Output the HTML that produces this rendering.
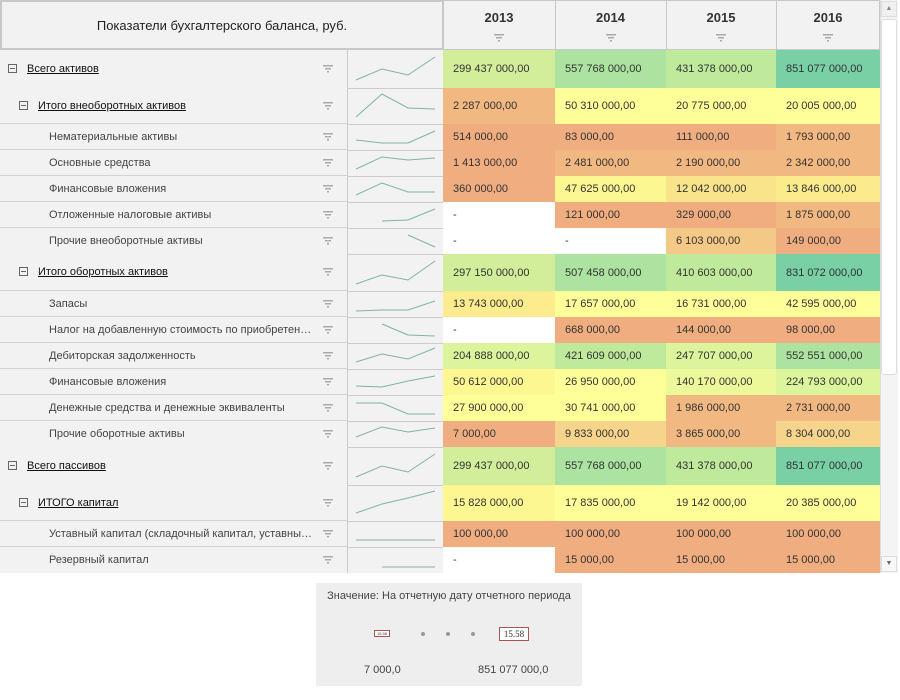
<!DOCTYPE html>
<html><head><meta charset="utf-8">
<style>
*{margin:0;padding:0;box-sizing:border-box}
body{width:900px;height:700px;background:#fff;position:relative;overflow:hidden;font-family:"Liberation Sans","DejaVu Sans",sans-serif;font-size:11px;color:#333}
.a{position:absolute}
.hd{background:#f2f2f2;border:1px solid #c8c8c8}
.lb{position:absolute;left:0;width:347px;background:#f2f2f2;border-bottom:1px solid #d2d2d2}
.lb span{position:absolute;top:50%;transform:translateY(-50%);white-space:nowrap}
.l0{left:27px;text-decoration:underline;color:#111}
.l1{left:38px;text-decoration:underline;color:#111}
.l2{left:49px;color:#444}
.bx{position:absolute;width:9px;height:9px;border:1px solid #666;top:50%;margin-top:-5px}
.bx:after{content:"";position:absolute;left:1px;top:3px;width:5px;height:1px;background:#666}
.fl{position:absolute;left:323px;top:50%;margin-top:-4px;width:10px;height:8px}
.sp{position:absolute;left:347px;width:96px;background:#f2f2f2;border-left:1px solid #ccc;border-bottom:1px solid #ccc}
.c{position:absolute;padding-left:10px;white-space:nowrap;display:flex;align-items:center}
.x0{left:443px;width:112px}.x1{left:555px;width:111px}.x2{left:666px;width:110px}.x3{left:776px;width:104px}
.G1{background:#d2ee9b}.G2{background:#ade3a0}.G3{background:#bfe99b}.G4{background:#79d0a5}
.O{background:#f0ae80}.O2{background:#f2b882}.Y{background:#ffff99}.Y2{background:#fdf792}.Y3{background:#f9e48b}.Y4{background:#f4c886}.W{background:#fff}
.L1{background:#dcf49b}.L2{background:#edf89b}.Y5{background:#f7d48c}
</style></head><body>
<svg width="0" height="0" style="position:absolute"><defs><g id="f"><rect x="0" y="0" width="10" height="1.5" fill="#aaa"/><rect x="2" y="3" width="6" height="1.5" fill="#aaa"/><rect x="4" y="6" width="2" height="1.5" fill="#aaa"/></g></defs></svg>

<!-- header -->
<div class="a hd" style="left:0;top:0;width:444px;height:50px;border-width:2px"><div style="position:absolute;width:100%;top:16px;text-align:center;font-size:13px;color:#222">Показатели бухгалтерского баланса, руб.</div></div>
<div class="a hd" style="left:443px;top:0;width:113px;height:50px"></div>
<div class="a hd" style="left:555px;top:0;width:112px;height:50px"></div>
<div class="a hd" style="left:666px;top:0;width:111px;height:50px"></div>
<div class="a hd" style="left:776px;top:0;width:104px;height:50px"></div>
<div class="a" style="left:443px;top:10px;width:112px;text-align:center;font-weight:bold;font-size:13px">2013</div>
<div class="a" style="left:555px;top:10px;width:111px;text-align:center;font-weight:bold;font-size:13px">2014</div>
<div class="a" style="left:666px;top:10px;width:110px;text-align:center;font-weight:bold;font-size:13px">2015</div>
<div class="a" style="left:776px;top:10px;width:104px;text-align:center;font-weight:bold;font-size:13px">2016</div>
<svg class="a" style="left:494px;top:34px" width="10" height="8"><use href="#f"/></svg>
<svg class="a" style="left:606px;top:34px" width="10" height="8"><use href="#f"/></svg>
<svg class="a" style="left:716px;top:34px" width="10" height="8"><use href="#f"/></svg>
<svg class="a" style="left:823px;top:34px" width="10" height="8"><use href="#f"/></svg>

<!-- label column -->
<div class="lb" style="top:50px;height:38px;border-bottom:none"><i class="bx" style="left:8px"></i><span class="l0">Всего активов</span><svg class="fl"><use href="#f"/></svg></div>
<div class="lb" style="top:88px;height:36px"><i class="bx" style="left:19px"></i><span class="l1">Итого внеоборотных активов</span><svg class="fl"><use href="#f"/></svg></div>
<div class="lb" style="top:124px;height:26px"><span class="l2">Нематериальные активы</span><svg class="fl"><use href="#f"/></svg></div>
<div class="lb" style="top:150px;height:26px"><span class="l2">Основные средства</span><svg class="fl"><use href="#f"/></svg></div>
<div class="lb" style="top:176px;height:26px"><span class="l2">Финансовые вложения</span><svg class="fl"><use href="#f"/></svg></div>
<div class="lb" style="top:202px;height:26px"><span class="l2">Отложенные налоговые активы</span><svg class="fl"><use href="#f"/></svg></div>
<div class="lb" style="top:228px;height:26px;border-bottom:none"><span class="l2">Прочие внеоборотные активы</span><svg class="fl"><use href="#f"/></svg></div>
<div class="lb" style="top:254px;height:37px"><i class="bx" style="left:19px"></i><span class="l1">Итого оборотных активов</span><svg class="fl"><use href="#f"/></svg></div>
<div class="lb" style="top:291px;height:26px"><span class="l2">Запасы</span><svg class="fl"><use href="#f"/></svg></div>
<div class="lb" style="top:317px;height:26px"><span class="l2">Налог на добавленную стоимость по приобретен…</span><svg class="fl"><use href="#f"/></svg></div>
<div class="lb" style="top:343px;height:26px"><span class="l2">Дебиторская задолженность</span><svg class="fl"><use href="#f"/></svg></div>
<div class="lb" style="top:369px;height:26px"><span class="l2">Финансовые вложения</span><svg class="fl"><use href="#f"/></svg></div>
<div class="lb" style="top:395px;height:26px"><span class="l2">Денежные средства и денежные эквиваленты</span><svg class="fl"><use href="#f"/></svg></div>
<div class="lb" style="top:421px;height:26px;border-bottom:none"><span class="l2">Прочие оборотные активы</span><svg class="fl"><use href="#f"/></svg></div>
<div class="lb" style="top:447px;height:38px;border-bottom:none"><i class="bx" style="left:8px"></i><span class="l0">Всего пассивов</span><svg class="fl"><use href="#f"/></svg></div>
<div class="lb" style="top:485px;height:36px"><i class="bx" style="left:19px"></i><span class="l1">ИТОГО капитал</span><svg class="fl"><use href="#f"/></svg></div>
<div class="lb" style="top:521px;height:26px"><span class="l2">Уставный капитал (складочный капитал, уставны…</span><svg class="fl"><use href="#f"/></svg></div>
<div class="lb" style="top:547px;height:26px;border-bottom:none"><span class="l2">Резервный капитал</span><svg class="fl"><use href="#f"/></svg></div>

<!-- sparklines -->
<div class="a" style="left:347px;top:50px;width:96px;height:523px;background:#f2f2f2;border-left:1px solid #ccc"></div>
<svg class="a" style="left:347px;top:50px" width="96" height="523">
<g stroke="#ccc" stroke-width="1">
<line x1="0" x2="96" y1="38.5" y2="38.5"/><line x1="0" x2="96" y1="74.5" y2="74.5"/><line x1="0" x2="96" y1="100.5" y2="100.5"/><line x1="0" x2="96" y1="126.5" y2="126.5"/><line x1="0" x2="96" y1="152.5" y2="152.5"/><line x1="0" x2="96" y1="178.5" y2="178.5"/><line x1="0" x2="96" y1="204.5" y2="204.5"/><line x1="0" x2="96" y1="241.5" y2="241.5"/><line x1="0" x2="96" y1="267.5" y2="267.5"/><line x1="0" x2="96" y1="293.5" y2="293.5"/><line x1="0" x2="96" y1="319.5" y2="319.5"/><line x1="0" x2="96" y1="345.5" y2="345.5"/><line x1="0" x2="96" y1="371.5" y2="371.5"/><line x1="0" x2="96" y1="397.5" y2="397.5"/><line x1="0" x2="96" y1="435.5" y2="435.5"/><line x1="0" x2="96" y1="471.5" y2="471.5"/><line x1="0" x2="96" y1="497.5" y2="497.5"/>
</g>
<g fill="none" stroke="#7fb3a6" stroke-width="1">
<polyline points="9,30 35,19 61,25 88,7"/>
<polyline points="9,67 35,44 61,58 88,59"/>
<polyline points="9,90 35,93 61,93 88,81"/>
<polyline points="9,119 35,107 61,110 88,108"/>
<polyline points="9,145 35,133 61,142 88,142"/>
<polyline points="35,171 61,170 88,159"/>
<polyline points="61,185 88,197"/>
<polyline points="9,234 35,225 61,230 88,211"/>
<polyline points="9,261 35,260 61,260 88,251"/>
<polyline points="35,274 61,285 88,286"/>
<polyline points="9,312 35,304 61,309 88,298"/>
<polyline points="9,336 35,337 61,331 88,326"/>
<polyline points="9,353 35,353 61,364 88,364"/>
<polyline points="9,387 35,377 61,382 88,378"/>
<polyline points="9,427 35,416 61,422 88,404"/>
<polyline points="9,463 35,454 61,448 88,441"/>
<polyline points="9,490 35,490 61,490 88,490"/>
<polyline points="35,517 61,517 88,517"/>
</g></svg>

<!-- data -->
<div class="c x0 G1" style="top:50px;height:38px">299 437 000,00</div><div class="c x1 G2" style="top:50px;height:38px">557 768 000,00</div><div class="c x2 G3" style="top:50px;height:38px">431 378 000,00</div><div class="c x3 G4" style="top:50px;height:38px">851 077 000,00</div>
<div class="c x0 O2" style="top:88px;height:36px">2 287 000,00</div><div class="c x1 Y" style="top:88px;height:36px">50 310 000,00</div><div class="c x2 Y" style="top:88px;height:36px">20 775 000,00</div><div class="c x3 Y" style="top:88px;height:36px">20 005 000,00</div>
<div class="c x0 O" style="top:124px;height:26px">514 000,00</div><div class="c x1 O" style="top:124px;height:26px">83 000,00</div><div class="c x2 O" style="top:124px;height:26px">111 000,00</div><div class="c x3 O2" style="top:124px;height:26px">1 793 000,00</div>
<div class="c x0 O" style="top:150px;height:26px">1 413 000,00</div><div class="c x1 O2" style="top:150px;height:26px">2 481 000,00</div><div class="c x2 O2" style="top:150px;height:26px">2 190 000,00</div><div class="c x3 O2" style="top:150px;height:26px">2 342 000,00</div>
<div class="c x0 O" style="top:176px;height:26px">360 000,00</div><div class="c x1 Y2" style="top:176px;height:26px">47 625 000,00</div><div class="c x2 Y3" style="top:176px;height:26px">12 042 000,00</div><div class="c x3 Y3" style="top:176px;height:26px;background:#fbeb8d">13 846 000,00</div>
<div class="c x0 W" style="top:202px;height:26px">-</div><div class="c x1 O" style="top:202px;height:26px">121 000,00</div><div class="c x2 O" style="top:202px;height:26px">329 000,00</div><div class="c x3 O2" style="top:202px;height:26px">1 875 000,00</div>
<div class="c x0 W" style="top:228px;height:26px">-</div><div class="c x1 W" style="top:228px;height:26px">-</div><div class="c x2 Y4" style="top:228px;height:26px">6 103 000,00</div><div class="c x3 O" style="top:228px;height:26px">149 000,00</div>
<div class="c x0 G1" style="top:254px;height:37px">297 150 000,00</div><div class="c x1 G2" style="top:254px;height:37px">507 458 000,00</div><div class="c x2 G3" style="top:254px;height:37px">410 603 000,00</div><div class="c x3 G4" style="top:254px;height:37px">831 072 000,00</div>
<div class="c x0 Y3" style="top:291px;height:26px;background:#fcec8e">13 743 000,00</div><div class="c x1 Y" style="top:291px;height:26px">17 657 000,00</div><div class="c x2 Y" style="top:291px;height:26px">16 731 000,00</div><div class="c x3 Y" style="top:291px;height:26px">42 595 000,00</div>
<div class="c x0 W" style="top:317px;height:26px">-</div><div class="c x1 O" style="top:317px;height:26px">668 000,00</div><div class="c x2 O" style="top:317px;height:26px">144 000,00</div><div class="c x3 O" style="top:317px;height:26px">98 000,00</div>
<div class="c x0 L1" style="top:343px;height:26px">204 888 000,00</div><div class="c x1 G3" style="top:343px;height:26px">421 609 000,00</div><div class="c x2 L1" style="top:343px;height:26px">247 707 000,00</div><div class="c x3 G2" style="top:343px;height:26px">552 551 000,00</div>
<div class="c x0 Y2" style="top:369px;height:26px">50 612 000,00</div><div class="c x1 Y" style="top:369px;height:26px">26 950 000,00</div><div class="c x2 L2" style="top:369px;height:26px">140 170 000,00</div><div class="c x3 L1" style="top:369px;height:26px">224 793 000,00</div>
<div class="c x0 Y" style="top:395px;height:26px">27 900 000,00</div><div class="c x1 Y" style="top:395px;height:26px">30 741 000,00</div><div class="c x2 O2" style="top:395px;height:26px">1 986 000,00</div><div class="c x3 O2" style="top:395px;height:26px">2 731 000,00</div>
<div class="c x0 O" style="top:421px;height:26px">7 000,00</div><div class="c x1 Y5" style="top:421px;height:26px">9 833 000,00</div><div class="c x2 O2" style="top:421px;height:26px">3 865 000,00</div><div class="c x3 Y5" style="top:421px;height:26px">8 304 000,00</div>
<div class="c x0 G1" style="top:447px;height:38px">299 437 000,00</div><div class="c x1 G2" style="top:447px;height:38px">557 768 000,00</div><div class="c x2 G3" style="top:447px;height:38px">431 378 000,00</div><div class="c x3 G4" style="top:447px;height:38px">851 077 000,00</div>
<div class="c x0 Y2" style="top:485px;height:36px">15 828 000,00</div><div class="c x1 Y" style="top:485px;height:36px">17 835 000,00</div><div class="c x2 Y" style="top:485px;height:36px">19 142 000,00</div><div class="c x3 Y" style="top:485px;height:36px">20 385 000,00</div>
<div class="c x0 O" style="top:521px;height:26px">100 000,00</div><div class="c x1 O" style="top:521px;height:26px">100 000,00</div><div class="c x2 O" style="top:521px;height:26px">100 000,00</div><div class="c x3 O" style="top:521px;height:26px">100 000,00</div>
<div class="c x0 W" style="top:547px;height:26px">-</div><div class="c x1 O" style="top:547px;height:26px">15 000,00</div><div class="c x2 O" style="top:547px;height:26px">15 000,00</div><div class="c x3 O" style="top:547px;height:26px">15 000,00</div>

<!-- scrollbar -->
<div class="a" style="left:880px;top:0;width:18px;height:573px;background:#f4f4f4;border-left:1px solid #ddd"></div>
<div class="a" style="left:881px;top:1px;width:16px;height:16px;background:#f0f0f0;border:1px solid #ddd;font-size:7px;color:#888;text-align:center;line-height:14px">▲</div>
<div class="a" style="left:881px;top:19px;width:16px;height:356px;background:#fff;border:1px solid #ddd;border-radius:3px"></div>
<div class="a" style="left:881px;top:556px;width:16px;height:16px;background:#f8f8f8;border:1px solid #ddd;font-size:7px;color:#666;text-align:center;line-height:14px">▼</div>

<!-- legend -->
<div class="a" style="left:316px;top:583px;width:266px;height:103px;background:#eeeeee"></div>
<div class="a" style="left:316px;top:590px;width:266px;text-align:center;color:#444;font-size:11px">Значение: На отчетную дату отчетного периода</div>
<div class="a" style="left:374px;top:630px;width:16px;height:7px;border:1px solid #a55;background:#fff;font-size:4px;line-height:5px;text-align:center">15.58</div>
<div class="a" style="left:421px;top:632px;width:4px;height:4px;border-radius:2px;background:#999"></div>
<div class="a" style="left:446px;top:632px;width:4px;height:4px;border-radius:2px;background:#999"></div>
<div class="a" style="left:471px;top:632px;width:4px;height:4px;border-radius:2px;background:#999"></div>
<div class="a" style="left:499px;top:627px;width:30px;height:14px;border:1px solid #a55;background:#fff;font-family:'Liberation Serif',serif;font-size:9px;line-height:12px;text-align:center">15.58</div>
<div class="a" style="left:364px;top:664px;color:#444">7 000,0</div>
<div class="a" style="left:478px;top:664px;color:#444">851 077 000,0</div>
</body></html>
